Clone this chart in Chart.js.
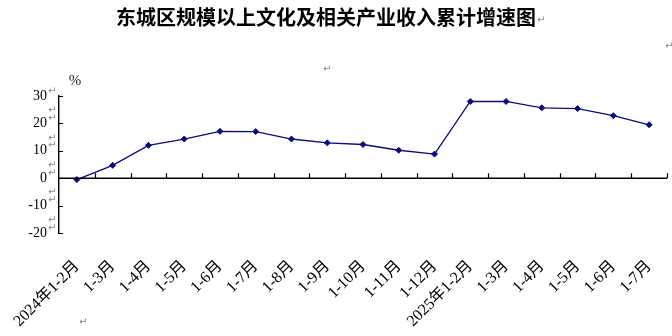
<!DOCTYPE html>
<html>
<head>
<meta charset="utf-8">
<script src="https://cdn.jsdelivr.net/npm/chart.js@4.4.1/dist/chart.umd.min.js"></script>
<style>
html,body{margin:0;padding:0;background:#fff;}
#wrap{width:672px;height:336px;position:relative;}
</style>
</head>
<body>
<div id="wrap"><canvas id="c" width="672" height="336"></canvas></div>
<script>
const titleText = '东城区规模以上文化及相关产业收入累计增速图';
const unitText = '%';
const categories = ['2024年1-2月','1-3月','1-4月','1-5月','1-6月','1-7月','1-8月','1-9月','1-10月','1-11月','1-12月','2025年1-2月','1-3月','1-4月','1-5月','1-6月','1-7月'];
const growth = [-0.5, 4.7, 12.0, 14.3, 17.1, 17.0, 14.3, 12.9, 12.3, 10.2, 8.8, 28.0, 28.0, 25.7, 25.4, 22.8, 19.5];
const yTicks = [30, 20, 10, 0, -10, -20];

const SERIF = "'Times New Roman','Liberation Serif','Noto Sans CJK SC',serif";
const NAVY = '#0b0b80';

const decor = {
  id: 'decor',
  afterDraw(chart) {
    const ctx = chart.ctx;
    const xs = chart.scales.x, ys = chart.scales.y;
    const ca = chart.chartArea;
    ctx.save();
    // title
    ctx.fillStyle = '#000';
    ctx.font = "bold 20px 'Noto Sans CJK SC',sans-serif";
    ctx.textAlign = 'center';
    ctx.textBaseline = 'middle';
    ctx.fillText(titleText, 326, 17);
    // unit
    ctx.font = '15px ' + SERIF;
    ctx.fillStyle = '#222';
    ctx.fillText(unitText, 75, 81);
    // paragraph marks (gray)
    ctx.fillStyle = '#8a8a8a';
    ctx.font = "10px 'DejaVu Sans',sans-serif";
    ctx.textAlign = 'left';
    ctx.fillText('↵', 537, 20);
    ctx.fillText('↵', 323, 69);
    ctx.fillText('↵', 665, 46);
    ctx.fillText('↵', 79, 322);
    for (let i = 0; i < yTicks.length; i++) {
      const py = ys.getPixelForValue(yTicks[i]);
      ctx.fillText('↵', 48, py - 5);
      if (i < yTicks.length - 1) {
        const pm = (py + ys.getPixelForValue(yTicks[i + 1])) / 2;
        ctx.fillText('↵', 48, pm + 1);
      }
    }
    // x axis line at zero with inward tick marks at category boundaries
    const y0 = ys.getPixelForValue(0);
    ctx.strokeStyle = '#000';
    ctx.lineWidth = 1.4;
    ctx.beginPath();
    ctx.moveTo(ca.left, y0);
    ctx.lineTo(ca.right, y0);
    ctx.stroke();
    ctx.lineWidth = 1.2;
    const n = categories.length;
    const step = (ca.right - ca.left) / n;
    ctx.beginPath();
    for (let k = 1; k <= n; k++) {
      const x = Math.round(xs.getPixelForValue(k - 1) + step / 2) + 0.5;
      ctx.moveTo(x, y0);
      ctx.lineTo(x, y0 - 5);
    }
    ctx.stroke();
    // y tick marks inward
    ctx.beginPath();
    for (const v of yTicks) {
      const py = Math.round(ys.getPixelForValue(v)) + 0.5;
      ctx.moveTo(ca.left, py);
      ctx.lineTo(ca.left + 4, py);
    }
    ctx.stroke();
    ctx.restore();
  }
};

new Chart(document.getElementById('c'), {
  type: 'line',
  data: {
    labels: categories,
    datasets: [{
      data: growth,
      borderColor: NAVY,
      backgroundColor: NAVY,
      borderWidth: 1.3,
      pointStyle: 'rectRot',
      pointRadius: 3,
      pointBorderWidth: 1,
      tension: 0,
      fill: false
    }]
  },
  options: {
    responsive: false,
    animation: false,
    devicePixelRatio: 1,
    layout: { padding: { top: 96, right: 4, left: 0, bottom: 0 } },
    plugins: { legend: { display: false }, title: { display: false }, tooltip: { enabled: false } },
    scales: {
      x: {
        type: 'category',
        offset: true,
        grid: { display: false },
        border: { display: false },
        ticks: {
          autoSkip: false,
          minRotation: 45,
          maxRotation: 45,
          padding: 16,
          color: '#000',
          font: { family: SERIF, size: 16 }
        },
        afterFit(s) { s.height = 103; s.paddingLeft = 0; s.paddingRight = 0; }
      },
      y: {
        min: -20,
        max: 30,
        grid: { display: false, drawTicks: false },
        border: { display: true, color: '#000', width: 1.4 },
        ticks: {
          stepSize: 10,
          padding: 12,
          color: '#000',
          font: { family: SERIF, size: 14 }
        },
        afterFit(s) { s.width = 59; s.paddingTop = 0; s.paddingBottom = 0; }
      }
    }
  },
  plugins: [decor]
});
</script>
</body>
</html>
